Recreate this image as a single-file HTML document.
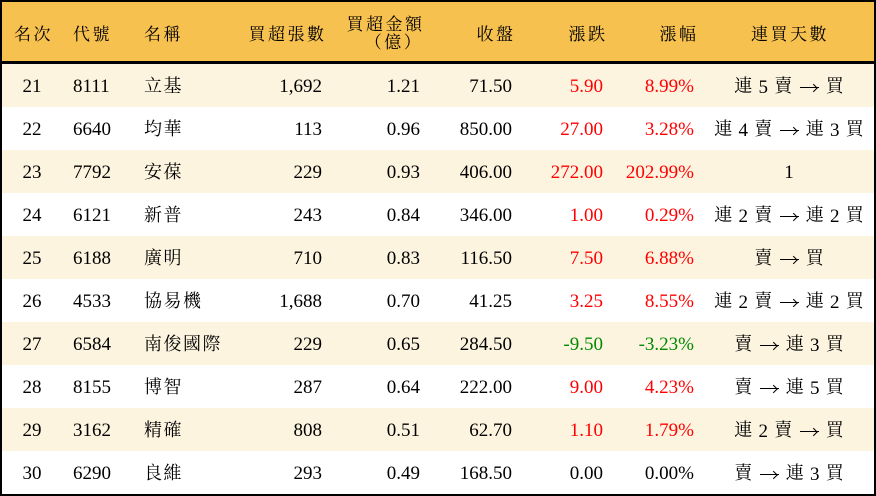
<!DOCTYPE html>
<html><head><meta charset="utf-8">
<style>
*{margin:0;padding:0;box-sizing:border-box}
html,body{width:876px;height:496px;overflow:hidden;background:#fff}
.wrap{position:absolute;left:0;top:0;width:876px;height:496px;border:2px solid #000;background:#fff}
.hdr{position:absolute;left:0;top:0;width:872px;height:59px;background:#F7C14F}
.sep{position:absolute;left:0;top:59px;width:872px;height:3px;background:#000}
.row{position:absolute;left:0;width:872px;height:43px}
.cream{background:#FDF4E0}
.c{position:absolute;white-space:nowrap;font-family:"Liberation Serif","Noto Serif CJK SC",serif;font-size:19px;color:#000}
.row .c{top:1px;line-height:43px}
.row .zh{font-family:"Noto Serif CJK SC","Liberation Serif",serif;font-size:18px;letter-spacing:1.5px;top:0px}
.row .bs{font-family:"Liberation Serif","Noto Serif CJK SC",serif;font-size:19px;top:1px;left:700px;width:174px;text-align:center}
.k{font-family:"Noto Serif CJK SC",serif;font-size:18px;position:relative;top:-1px;margin:0 1.5px}
.a{display:inline-block;width:19px;height:1.3px;background:#000;position:relative;vertical-align:middle;top:-1px;margin:0 1px}
.a::after{content:"";position:absolute;right:0;top:-3px;width:6px;height:6px;border-top:1.3px solid #000;border-right:1.3px solid #000;transform:rotate(45deg) translate(-1px,1px);transform-origin:center;box-sizing:border-box;right:1px;top:-2.4px}
.hz{font-family:"Noto Serif CJK SC",serif;font-size:17px;letter-spacing:2.5px}
.r{color:#FF0000}
.g{color:#008A00}
</style></head><body>
<div class="wrap">
<div class="hdr">
  <span class="c hz" style="left:12px;top:18px;line-height:26px">名次</span>
  <span class="c hz" style="left:71px;top:18px;line-height:26px">代號</span>
  <span class="c hz" style="left:142px;top:18px;line-height:26px">名稱</span>
  <span class="c hz" style="right:550px;top:18px;line-height:26px;margin-right:-2.5px">買超張數</span>
  <span class="c hz" style="right:452px;top:8px;line-height:26px;margin-right:-2.5px">買超金額</span>
  <span class="c hz" style="left:360px;width:64px;text-align:center;top:26px;line-height:26px">（億）</span>
  <span class="c hz" style="right:361px;top:18px;line-height:26px;margin-right:-2.5px">收盤</span>
  <span class="c hz" style="right:269px;top:18px;line-height:26px;margin-right:-2.5px">漲跌</span>
  <span class="c hz" style="right:178px;top:18px;line-height:26px;margin-right:-2.5px">漲幅</span>
  <span class="c hz" style="left:700px;width:176px;text-align:center;top:18px;line-height:26px">連買天數</span>
</div>
<div class="sep"></div>

<div class="row cream" style="top:62px">
  <span class="c" style="left:0;width:60px;text-align:center">21</span>
  <span class="c" style="left:71px">8111</span>
  <span class="c zh" style="left:142px">立基</span>
  <span class="c" style="right:552px">1,692</span>
  <span class="c" style="right:454px">1.21</span>
  <span class="c" style="right:362px">71.50</span>
  <span class="c r" style="right:271px">5.90</span>
  <span class="c r" style="right:180px">8.99%</span>
  <span class="c bs"><span class="k">連</span> 5 <span class="k">賣</span> <span class="a"></span> <span class="k">買</span></span>
</div>
<div class="row" style="top:105px">
  <span class="c" style="left:0;width:60px;text-align:center">22</span>
  <span class="c" style="left:71px">6640</span>
  <span class="c zh" style="left:142px">均華</span>
  <span class="c" style="right:552px">113</span>
  <span class="c" style="right:454px">0.96</span>
  <span class="c" style="right:362px">850.00</span>
  <span class="c r" style="right:271px">27.00</span>
  <span class="c r" style="right:180px">3.28%</span>
  <span class="c bs"><span class="k">連</span> 4 <span class="k">賣</span> <span class="a"></span> <span class="k">連</span> 3 <span class="k">買</span></span>
</div>
<div class="row cream" style="top:148px">
  <span class="c" style="left:0;width:60px;text-align:center">23</span>
  <span class="c" style="left:71px">7792</span>
  <span class="c zh" style="left:142px">安葆</span>
  <span class="c" style="right:552px">229</span>
  <span class="c" style="right:454px">0.93</span>
  <span class="c" style="right:362px">406.00</span>
  <span class="c r" style="right:271px">272.00</span>
  <span class="c r" style="right:180px">202.99%</span>
  <span class="c bs">1</span>
</div>
<div class="row" style="top:191px">
  <span class="c" style="left:0;width:60px;text-align:center">24</span>
  <span class="c" style="left:71px">6121</span>
  <span class="c zh" style="left:142px">新普</span>
  <span class="c" style="right:552px">243</span>
  <span class="c" style="right:454px">0.84</span>
  <span class="c" style="right:362px">346.00</span>
  <span class="c r" style="right:271px">1.00</span>
  <span class="c r" style="right:180px">0.29%</span>
  <span class="c bs"><span class="k">連</span> 2 <span class="k">賣</span> <span class="a"></span> <span class="k">連</span> 2 <span class="k">買</span></span>
</div>
<div class="row cream" style="top:234px">
  <span class="c" style="left:0;width:60px;text-align:center">25</span>
  <span class="c" style="left:71px">6188</span>
  <span class="c zh" style="left:142px">廣明</span>
  <span class="c" style="right:552px">710</span>
  <span class="c" style="right:454px">0.83</span>
  <span class="c" style="right:362px">116.50</span>
  <span class="c r" style="right:271px">7.50</span>
  <span class="c r" style="right:180px">6.88%</span>
  <span class="c bs"><span class="k">賣</span> <span class="a"></span> <span class="k">買</span></span>
</div>
<div class="row" style="top:277px">
  <span class="c" style="left:0;width:60px;text-align:center">26</span>
  <span class="c" style="left:71px">4533</span>
  <span class="c zh" style="left:142px">協易機</span>
  <span class="c" style="right:552px">1,688</span>
  <span class="c" style="right:454px">0.70</span>
  <span class="c" style="right:362px">41.25</span>
  <span class="c r" style="right:271px">3.25</span>
  <span class="c r" style="right:180px">8.55%</span>
  <span class="c bs"><span class="k">連</span> 2 <span class="k">賣</span> <span class="a"></span> <span class="k">連</span> 2 <span class="k">買</span></span>
</div>
<div class="row cream" style="top:320px">
  <span class="c" style="left:0;width:60px;text-align:center">27</span>
  <span class="c" style="left:71px">6584</span>
  <span class="c zh" style="left:142px">南俊國際</span>
  <span class="c" style="right:552px">229</span>
  <span class="c" style="right:454px">0.65</span>
  <span class="c" style="right:362px">284.50</span>
  <span class="c g" style="right:271px">-9.50</span>
  <span class="c g" style="right:180px">-3.23%</span>
  <span class="c bs"><span class="k">賣</span> <span class="a"></span> <span class="k">連</span> 3 <span class="k">買</span></span>
</div>
<div class="row" style="top:363px">
  <span class="c" style="left:0;width:60px;text-align:center">28</span>
  <span class="c" style="left:71px">8155</span>
  <span class="c zh" style="left:142px">博智</span>
  <span class="c" style="right:552px">287</span>
  <span class="c" style="right:454px">0.64</span>
  <span class="c" style="right:362px">222.00</span>
  <span class="c r" style="right:271px">9.00</span>
  <span class="c r" style="right:180px">4.23%</span>
  <span class="c bs"><span class="k">賣</span> <span class="a"></span> <span class="k">連</span> 5 <span class="k">買</span></span>
</div>
<div class="row cream" style="top:406px">
  <span class="c" style="left:0;width:60px;text-align:center">29</span>
  <span class="c" style="left:71px">3162</span>
  <span class="c zh" style="left:142px">精確</span>
  <span class="c" style="right:552px">808</span>
  <span class="c" style="right:454px">0.51</span>
  <span class="c" style="right:362px">62.70</span>
  <span class="c r" style="right:271px">1.10</span>
  <span class="c r" style="right:180px">1.79%</span>
  <span class="c bs"><span class="k">連</span> 2 <span class="k">賣</span> <span class="a"></span> <span class="k">買</span></span>
</div>
<div class="row" style="top:449px">
  <span class="c" style="left:0;width:60px;text-align:center">30</span>
  <span class="c" style="left:71px">6290</span>
  <span class="c zh" style="left:142px">良維</span>
  <span class="c" style="right:552px">293</span>
  <span class="c" style="right:454px">0.49</span>
  <span class="c" style="right:362px">168.50</span>
  <span class="c" style="right:271px">0.00</span>
  <span class="c" style="right:180px">0.00%</span>
  <span class="c bs"><span class="k">賣</span> <span class="a"></span> <span class="k">連</span> 3 <span class="k">買</span></span>
</div>
</div>
</body></html>
